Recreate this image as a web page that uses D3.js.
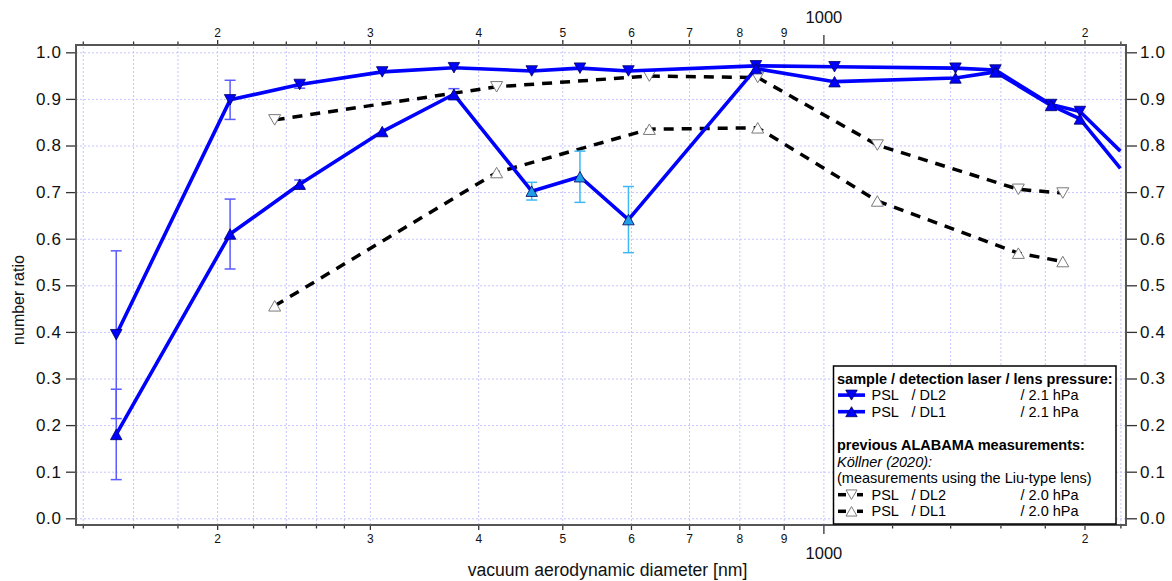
<!DOCTYPE html>
<html><head><meta charset="utf-8">
<script src="https://cdn.jsdelivr.net/npm/d3@7"></script>
<style>
body{margin:0;background:#fff;}
svg{display:block;font-family:"Liberation Sans",Arial,Helvetica,sans-serif;}
</style></head><body>
<svg id="chart" width="1172" height="581"></svg>
<script>
// Vacuum aerodynamic diameters (nm) of the current PSL measurements
const diamNow = [153, 207, 249, 310, 375, 461, 524, 596, 836, 1030, 1420, 1579, 1830, 1976, 2200];
// Number ratio, detection laser 2 (down triangles) and its uncertainty
const ratioDL2 = [0.394, 0.898, 0.931, 0.958, 0.967, 0.960, 0.966, 0.960, 0.971, 0.969, 0.966, 0.962, 0.888, 0.873, 0.788];
const errDL2   = [0.180, 0.042, 0.008, 0, 0, 0, 0, 0, 0, 0, 0, 0, 0, 0, 0];
// Number ratio, detection laser 1 (up triangles) and its uncertainty
const ratioDL1 = [0.180, 0.610, 0.717, 0.830, 0.910, 0.702, 0.733, 0.641, 0.965, 0.937, 0.945, 0.958, 0.886, 0.857, 0.751];
const errDL1   = [0.097, 0.075, 0.009, 0, 0.012, 0.019, 0.055, 0.071, 0, 0, 0, 0, 0, 0, 0];
// DL1 points drawn in light blue
const lightDL1 = [false, false, false, false, false, true, true, true, false, false, false, false, false, false, false];
// last point only continues the line (no marker)
const showMarker = [true, true, true, true, true, true, true, true, true, true, true, true, true, true, false];

// Köllner (2020), Liu-type lens, 2.0 hPa
const diamPrev = [233, 420, 630, 840, 1154, 1678, 1888];
const prevDL2  = [0.855, 0.926, 0.949, 0.946, 0.801, 0.706, 0.698];
const prevDL1  = [0.456, 0.742, 0.835, 0.838, 0.681, 0.569, 0.551];

// Log axis ticks
const tickMinor = [140, 160, 180, 220, 240, 260, 280, 1200, 1400, 1600, 1800, 2200];
const tickMid = [200, 300, 400, 500, 600, 700, 800, 900, 2000];
const tickMidLabels = ["2", "3", "4", "5", "6", "7", "8", "9", "2"];
const tickMajor = [1000];
const yTicks = [0, 0.1, 0.2, 0.3, 0.4, 0.5, 0.6, 0.7, 0.8, 0.9, 1.0];

const svg = d3.select("#chart");
const M = {l: 76, r: 1126, t: 45, b: 525};
const x = d3.scaleLog().domain([137.5, 2233]).range([M.l, M.r]);
const y = d3.scaleLinear().domain([-0.0144, 1.0157]).range([M.b, M.t]);

const BLUE = "#0000ff";
const ERR = "#5a5aff";
const LIGHT = "#1e9fe8";
const LIGHT_ERR = "#3db8f5";

// ---- grid ----
const gridCol = "#c4c4ff";
svg.append("g").attr("transform", `translate(0,${M.b})`)
  .call(d3.axisBottom(x).tickValues([...tickMinor, ...tickMid, ...tickMajor]).tickSize(-(M.b - M.t)).tickFormat(""))
  .call(g => g.select(".domain").remove())
  .selectAll("line").attr("stroke", gridCol).attr("stroke-dasharray", "2,2");
svg.append("g").attr("transform", `translate(${M.l},0)`)
  .call(d3.axisLeft(y).tickValues(yTicks).tickSize(-(M.r - M.l)).tickFormat(""))
  .call(g => g.select(".domain").remove())
  .selectAll("line").attr("stroke", gridCol).attr("stroke-dasharray", "2,2");

// ---- x axes (bottom and top) ----
function xAxis(gen, pos, values, size, labels, fs, textY) {
  const g = svg.append("g").attr("transform", `translate(0,${pos})`)
    .call(gen(x).tickValues(values).tickSize(size)
      .tickFormat((d, i) => labels ? labels[i] : ""));
  g.select(".domain").remove();
  g.selectAll("line").attr("stroke", "#333").attr("stroke-width", 1.3);
  g.selectAll("text").attr("y", textY).attr("dy", null)
    .attr("font-size", fs).attr("fill", "#111").attr("font-family", null);
  return g;
}
xAxis(d3.axisBottom, M.b, tickMinor, 3.5, null, 12, 0);
xAxis(d3.axisBottom, M.b, tickMid, 5, tickMidLabels, 12, 18.3);
xAxis(d3.axisBottom, M.b, tickMajor, 9, ["1000"], 16.5, 34.3);
xAxis(d3.axisTop, M.t, tickMinor, 3.5, null, 12, 0);
xAxis(d3.axisTop, M.t, tickMid, 5, tickMidLabels, 12, -8.5);
xAxis(d3.axisTop, M.t, tickMajor, 10, ["1000"], 16.5, -21.7);

// ---- y axes (left and right) ----
function yAxis(gen, pos, size, pad) {
  const g = svg.append("g").attr("transform", `translate(${pos},0)`)
    .call(gen(y).tickValues(yTicks).tickSize(size).tickPadding(pad).tickFormat(d3.format(".1f")));
  g.select(".domain").remove();
  g.selectAll("line").attr("stroke", "#333").attr("stroke-width", 1.3);
  g.selectAll("text").attr("font-size", 17).attr("fill", "#111")
    .attr("font-family", null).attr("letter-spacing", "0.6px");
}
yAxis(d3.axisLeft, M.l, 10, 4.5);
yAxis(d3.axisRight, M.r, 11, 3);

// frame
svg.append("rect").attr("x", M.l).attr("y", M.t).attr("width", M.r - M.l).attr("height", M.b - M.t)
  .attr("fill", "none").attr("stroke", "#555").attr("stroke-width", 2);

// axis titles
svg.append("text").attr("x", 607.5).attr("y", 576).attr("text-anchor", "middle")
  .attr("font-size", 17.6).attr("fill", "#111").text("vacuum aerodynamic diameter [nm]");
svg.append("text").attr("transform", "translate(23.5,300) rotate(-90)").attr("text-anchor", "middle")
  .attr("font-size", 16).attr("fill", "#111").text("number ratio");

// ---- marker shapes (centred on bounding box) ----
function tri(s, h, down) {
  const k = down ? -1 : 1;
  return `M0,${-k * h / 2}L${s / 2},${k * h / 2}L${-s / 2},${k * h / 2}Z`;
}

// ---- previous measurements (black dashed) ----
const line = d3.line().x(d => x(d[0])).y(d => y(d[1]));
[[prevDL2, true], [prevDL1, false]].forEach(([vals, down]) => {
  const pts = diamPrev.map((d, i) => [d, vals[i]]);
  svg.append("path").attr("d", line(pts)).attr("fill", "none").attr("stroke", "#000")
    .attr("stroke-width", 3.5).attr("stroke-dasharray", "10,8");
  svg.append("g").selectAll("path").data(pts).join("path")
    .attr("transform", d => `translate(${x(d[0])},${y(d[1])})`)
    .attr("d", tri(12, 10.5, down)).attr("fill", "#fff").attr("stroke", "#7a7a7a").attr("stroke-width", 1);
});

// ---- current measurements ----
function errorBars(vals, errs, colorOf) {
  const data = diamNow.map((d, i) => ({d, v: vals[i], e: errs[i], i})).filter(p => p.e > 0);
  const g = svg.append("g");
  data.forEach(p => {
    const cx = x(p.d), y1 = y(p.v + p.e), y2 = y(p.v - p.e), c = colorOf(p.i);
    g.append("line").attr("x1", cx).attr("x2", cx).attr("y1", y1).attr("y2", y2).attr("stroke", c).attr("stroke-width", 1.5);
    [y1, y2].forEach(yy => g.append("line").attr("x1", cx - 5.5).attr("x2", cx + 5.5)
      .attr("y1", yy).attr("y2", yy).attr("stroke", c).attr("stroke-width", 1.5));
  });
}
errorBars(ratioDL2, errDL2, () => ERR);
errorBars(ratioDL1, errDL1, i => lightDL1[i] ? LIGHT_ERR : ERR);

[[ratioDL2, true], [ratioDL1, false]].forEach(([vals, down]) => {
  const pts = diamNow.map((d, i) => [d, vals[i]]);
  svg.append("path").attr("d", line(pts)).attr("fill", "none").attr("stroke", BLUE)
    .attr("stroke-width", 3.6).attr("stroke-linejoin", "round");
});
[[ratioDL2, true], [ratioDL1, false]].forEach(([vals, down]) => {
  const pts = diamNow.map((d, i) => ({d, v: vals[i], i})).filter(p => showMarker[p.i]);
  svg.append("g").selectAll("path").data(pts).join("path")
    .attr("transform", p => `translate(${x(p.d)},${y(p.v)})`)
    .attr("d", tri(11.5, 10.5, down))
    .attr("fill", p => (!down && lightDL1[p.i]) ? LIGHT : BLUE)
    .attr("stroke", "#000060").attr("stroke-width", 0.8);
});

// ---- legend ----
const L = svg.append("g");
L.append("rect").attr("x", 833.5).attr("y", 366).attr("width", 282.5).attr("height", 158)
  .attr("fill", "#fff").attr("stroke", "#000").attr("stroke-width", 1.5);
const base = 383.5, step = 16.6, fs = 14.5;
const rowY = r => base + r * step;
const text = (tx, r, s, opts = {}) => L.append("text").attr("x", tx).attr("y", rowY(r))
  .attr("font-size", fs).attr("fill", "#000")
  .attr("font-weight", opts.bold ? "bold" : null).attr("font-style", opts.italic ? "italic" : null).text(s);

text(837, 0, "sample / detection laser / lens pressure:", {bold: true});
const entries = [
  {r: 1, lab: "/ DL2", p: "/ 2.1 hPa", cur: true, down: true},
  {r: 2, lab: "/ DL1", p: "/ 2.1 hPa", cur: true, down: false},
  {r: 7, lab: "/ DL2", p: "/ 2.0 hPa", cur: false, down: true},
  {r: 8, lab: "/ DL1", p: "/ 2.0 hPa", cur: false, down: false}
];
entries.forEach(e => {
  const cy = rowY(e.r) - 5;
  if (e.cur) {
    L.append("line").attr("x1", 838).attr("x2", 865).attr("y1", cy).attr("y2", cy)
      .attr("stroke", BLUE).attr("stroke-width", 3.6);
    L.append("path").attr("transform", `translate(851.5,${cy})`).attr("d", tri(11.5, 10, e.down))
      .attr("fill", BLUE).attr("stroke", "#000060").attr("stroke-width", 0.8);
  } else {
    [[838, 846], [857, 863]].forEach(([a, b]) => L.append("line").attr("x1", a).attr("x2", b)
      .attr("y1", cy).attr("y2", cy).attr("stroke", "#000").attr("stroke-width", 3.5));
    L.append("path").attr("transform", `translate(851.5,${cy})`).attr("d", tri(11, 9.5, e.down))
      .attr("fill", "#fff").attr("stroke", "#7a7a7a").attr("stroke-width", 1);
  }
  text(871.5, e.r, "PSL");
  text(911.5, e.r, e.lab);
  text(1020.5, e.r, e.p);
});
text(837, 4, "previous ALABAMA measurements:", {bold: true});
text(837, 5, "Köllner (2020):", {italic: true});
text(837, 6, "(measurements using the Liu-type lens)");
</script>
</body></html>
